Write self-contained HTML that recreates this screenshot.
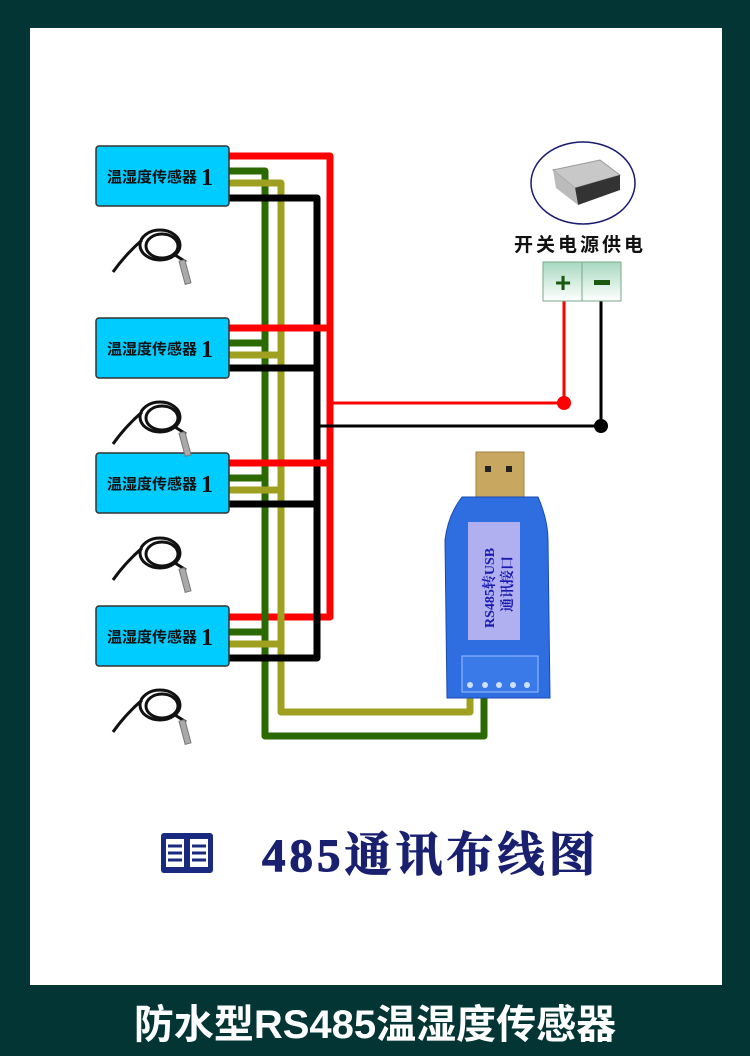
<!DOCTYPE html>
<html><head><meta charset="utf-8"><style>
body{margin:0;width:750px;height:1056px;background:#033535;overflow:hidden}
svg{display:block}
</style></head><body>
<svg width="750" height="1056" viewBox="0 0 750 1056" xmlns="http://www.w3.org/2000/svg">
<rect x="0" y="0" width="750" height="1056" fill="#033535"/>
<rect x="30" y="28" width="692" height="957" fill="#fff"/>
<g font-family="Liberation Sans, Noto Sans CJK SC, sans-serif">
<g fill="none" stroke-linejoin="round">
<polyline points="229,156 330,156 330,617 229,617" stroke="#ff0000" stroke-width="7"/>
<polyline points="229,171 265,171 265,736 484,736 484,690" stroke="#2a6a00" stroke-width="7"/>
<polyline points="229,183 281,183 281,712 470,712 470,690" stroke="#a0a020" stroke-width="7"/>
<polyline points="229,198 317,198 317,658 229,658" stroke="#000" stroke-width="7"/>
<g stroke="#ff0000" stroke-width="7"><line x1="229" y1="328" x2="330" y2="328"/><line x1="229" y1="463" x2="330" y2="463"/></g>
<g stroke="#2a6a00" stroke-width="7"><line x1="229" y1="343" x2="265" y2="343"/><line x1="229" y1="478" x2="265" y2="478"/><line x1="229" y1="632" x2="265" y2="632"/></g>
<g stroke="#a0a020" stroke-width="7"><line x1="229" y1="355" x2="281" y2="355"/><line x1="229" y1="490" x2="281" y2="490"/><line x1="229" y1="644" x2="281" y2="644"/></g>
<g stroke="#000" stroke-width="7"><line x1="229" y1="368" x2="317" y2="368"/><line x1="229" y1="504" x2="317" y2="504"/></g>
<polyline points="330,403 564,403 564,300" stroke="#ff0000" stroke-width="3"/>
<polyline points="317,426 601,426 601,300" stroke="#000" stroke-width="3"/>
</g>
<circle cx="564" cy="403" r="7" fill="#ff0000"/>
<circle cx="601" cy="426" r="7" fill="#000"/>
<g>
<rect x="96" y="146" width="133" height="60" rx="3" fill="#00ccff" stroke="#333" stroke-width="1.5"/>
<rect x="96" y="318" width="133" height="60" rx="3" fill="#00ccff" stroke="#333" stroke-width="1.5"/>
<rect x="96" y="453" width="133" height="60" rx="3" fill="#00ccff" stroke="#333" stroke-width="1.5"/>
<rect x="96" y="606" width="133" height="60" rx="3" fill="#00ccff" stroke="#333" stroke-width="1.5"/>
</g>
<g font-size="15" font-weight="bold" fill="#111">
<text x="107" y="182">温湿度传感器</text><text x="107" y="354">温湿度传感器</text><text x="107" y="489">温湿度传感器</text><text x="107" y="642">温湿度传感器</text>
</g>
<g font-size="24" font-weight="bold" fill="#111" font-family="Liberation Serif, serif">
<text x="201" y="185">1</text><text x="201" y="357">1</text><text x="201" y="492">1</text><text x="201" y="645">1</text>
</g>
<g id="p" fill="none" stroke="#111" stroke-width="3">
<ellipse cx="160" cy="245" rx="20" ry="15"/><ellipse cx="162" cy="246" rx="16" ry="12"/>
<path d="M142,240 Q125,255 113,272"/>
<path d="M175,255 L186,262"/>
<rect x="182" y="260" width="6" height="24" fill="#aaa" stroke="#777" stroke-width="1" transform="rotate(-15 185 272)"/>
</g>
<use href="#p" y="172"/><use href="#p" y="308"/><use href="#p" y="460"/>
<ellipse cx="583" cy="183" rx="52" ry="41" fill="#fff" stroke="#1a1a70" stroke-width="1.5"/>
<polygon points="553,170 600,160 620,175 575,188" fill="#c8c8c8" stroke="#999"/>
<polygon points="575,188 620,175 620,190 578,205" fill="#333"/>
<polygon points="553,170 575,188 578,205 556,188" fill="#bbb"/>
<text x="514" y="251" font-size="19" font-weight="bold" fill="#111" letter-spacing="3">开关电源供电</text>
<defs><linearGradient id="tg" x1="0" y1="0" x2="0" y2="1"><stop offset="0" stop-color="#a8d8c0"/><stop offset="1" stop-color="#fff"/></linearGradient></defs>
<rect x="543" y="262" width="39" height="39" fill="url(#tg)" stroke="#7aa88a"/>
<rect x="582" y="262" width="39" height="39" fill="url(#tg)" stroke="#7aa88a"/>
<text x="563" y="292" font-size="28" font-weight="bold" fill="#1a5a10" text-anchor="middle">+</text>
<rect x="594" y="280" width="16" height="5" fill="#1a5a10"/>
<rect x="476" y="452" width="48" height="45" fill="#c8a860" stroke="#a08040"/>
<rect x="485" y="466" width="6" height="6" fill="#222"/><rect x="506" y="466" width="6" height="6" fill="#222"/>
<path d="M462,497 L538,497 Q548,520 548,540 L550,698 L447,698 L445,540 Q448,515 462,497 Z" fill="#2e6ee0" stroke="#1a4ab0"/>
<rect x="468" y="522" width="52" height="118" fill="#b0b0f0"/>
<text transform="translate(494,628) rotate(-90)" font-size="14" font-weight="bold" fill="#1a1ab0" font-family="Liberation Serif, Noto Serif CJK SC, serif">RS485转USB</text>
<text transform="translate(512,612) rotate(-90)" font-size="14" font-weight="bold" fill="#1a1ab0" font-family="Liberation Serif, Noto Serif CJK SC, serif">通讯接口</text>
<rect x="462" y="656" width="76" height="36" fill="#3a7ae8" stroke="#9cc0ff" stroke-width="1"/>
<g fill="#cfe0ff"><circle cx="470" cy="685" r="3"/><circle cx="485" cy="685" r="3"/><circle cx="499" cy="685" r="3"/><circle cx="513" cy="685" r="3"/><circle cx="527" cy="685" r="3"/></g>
<g fill="#1a2a80">
<rect x="161" y="833" width="52" height="40" rx="3"/>
<rect x="166" y="839" width="18" height="28" fill="#fff"/><rect x="190" y="839" width="18" height="28" fill="#fff"/>
<g stroke="#1a2a80" stroke-width="3"><line x1="168" y1="846" x2="182" y2="846"/><line x1="168" y1="853" x2="182" y2="853"/><line x1="168" y1="860" x2="182" y2="860"/><line x1="192" y1="846" x2="206" y2="846"/><line x1="192" y1="853" x2="206" y2="853"/><line x1="192" y1="860" x2="206" y2="860"/></g>
</g>
<text x="262" y="871" font-size="47" font-weight="bold" fill="#1a2070" letter-spacing="4" stroke="#1a2070" stroke-width="1" font-family="Liberation Serif, Noto Serif CJK SC, serif">485通讯布线图</text>
<text x="375" y="1038" font-size="40" font-weight="bold" fill="#fff" text-anchor="middle">防水型RS485温湿度传感器</text>
</g>
</svg>
</body></html>
